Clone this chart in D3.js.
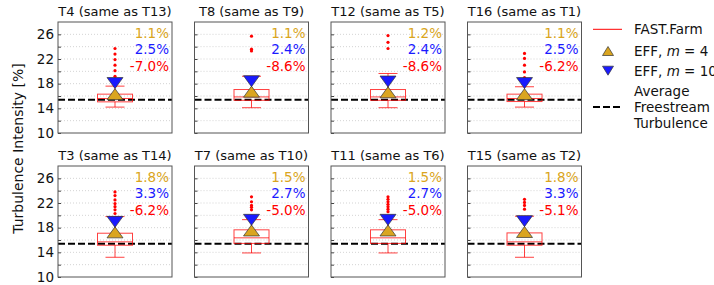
<!DOCTYPE html>
<html>
<head>
<meta charset="utf-8">
<script src="https://cdn.jsdelivr.net/npm/d3@7"></script>
<style>
  html, body { margin: 0; padding: 0; background: #fff; }
  svg { display: block; font-family: "DejaVu Sans", sans-serif; }
</style>
</head>
<body>
<svg id="chart" width="714" height="285"></svg>
<script>
// ---------- data ----------
const titles = ["T4 (same as T13)", "T8 (same as T9)", "T12 (same as T5)", "T16 (same as T1)",
                "T3 (same as T14)", "T7 (same as T10)", "T11 (same as T6)", "T15 (same as T2)"];
const whiskerLow  = [14.2, 14.1, 14.1, 14.2, 13.2, 13.9, 13.9, 13.2];
const q1          = [15.05, 15.3, 15.3, 15.1, 15.15, 15.45, 15.45, 15.15];
const median      = [15.6, 15.85, 15.85, 15.6, 15.7, 16.35, 16.35, 15.7];
const q3          = [16.3, 17.05, 17.05, 16.3, 17.1, 17.65, 17.65, 17.15];
const whiskerHigh = [17.6, 19.2, 19.65, 17.5, 19.8, 19.3, 19.3, 19.85];
const outliers = [
  [23.7, 22.8, 21.9, 21.0, 20.1, 19.2],
  [25.7, 23.6, 23.3],
  [25.8, 24.7, 23.7],
  [22.9, 22.1, 21.0, 19.9, 19.0],
  [23.8, 23.2, 22.5, 21.9, 21.4, 20.9, 20.3],
  [23.0, 22.2, 21.6, 21.3, 20.9],
  [23.0, 22.6, 22.2, 21.8, 21.4, 21.0, 20.6],
  [22.6, 22.1, 21.6, 21.0]
];
const eff4  = [16.3, 16.7, 16.6, 16.3, 17.24, 17.55, 17.55, 17.3];
const eff10 = [18.1, 18.4, 18.35, 18.1, 18.94, 19.27, 19.27, 19.06];
const errEff4  = [1.1, 1.1, 1.2, 1.1, 1.8, 1.5, 1.5, 1.8];
const errEff10 = [2.5, 2.4, 2.4, 2.5, 3.3, 2.7, 2.7, 3.3];
const errFarm  = [-7.0, -8.6, -8.6, -6.2, -6.2, -5.0, -5.0, -5.1];
const freestream = 15.4;
const yDomain = [10, 28];
const yTicks = [10, 12, 14, 16, 18, 20, 22, 24, 26];
const yTickLabels = [10, 14, 18, 22, 26];
const yLabel = "Turbulence Intensity [%]";
const legendLabels = ["FAST.Farm", "EFF, ", "EFF, ", "Average", "Freestream", "Turbulence"];

// ---------- styles ----------
const cGold = "#daa520";
const cBlue = "#1a1aff";
const cRed = "#ff0000";

const svg = d3.select("#chart");
const panelW = 114, panelH = 111;
const lefts = [58, 194.5, 331, 467.5];
const tops = [22, 166];

const x = d3.scaleBand().domain(["box"]).range([0, panelW]).padding(0);

titles.forEach((title, i) => {
  const col = i % 4, row = Math.floor(i / 4);
  const g = svg.append("g").attr("transform", `translate(${lefts[col]},${tops[row]})`);
  const y = d3.scaleLinear().domain(yDomain).range([panelH, 0]);
  const cx = x("box") + x.bandwidth() / 2;

  // grid
  g.selectAll("line.grid").data(yTicks.filter(t => t > yDomain[0]))
    .enter().append("line")
    .attr("x1", 0).attr("x2", panelW)
    .attr("y1", d => y(d)).attr("y2", d => y(d))
    .attr("stroke", "#c8c8c8").attr("stroke-width", 0.8)
    .attr("stroke-dasharray", "1,2");

  // axis
  const axis = d3.axisLeft(y).tickValues(yTicks).tickSize(-3).tickPadding(4)
    .tickFormat(d => (col === 0 && yTickLabels.includes(d)) ? d : "");
  const ag = g.append("g").call(axis);
  ag.select(".domain").remove();
  ag.selectAll(".tick line").attr("stroke", "#444");
  ag.selectAll(".tick text").attr("font-size", 13.5).attr("fill", "#111")
    .attr("font-family", "DejaVu Sans");

  // freestream
  g.append("line").attr("x1", 0).attr("x2", panelW)
    .attr("y1", y(freestream)).attr("y2", y(freestream))
    .attr("stroke", "#000").attr("stroke-width", 2).attr("stroke-dasharray", "7,3");

  // box plot
  const bw = 35, capW = 19;
  const bx = g.append("g").attr("stroke", cRed).attr("stroke-opacity", 0.75)
    .attr("fill", "none").attr("stroke-width", 1);
  bx.append("line").attr("x1", cx).attr("x2", cx).attr("y1", y(whiskerLow[i])).attr("y2", y(q1[i]));
  bx.append("line").attr("x1", cx).attr("x2", cx).attr("y1", y(q3[i])).attr("y2", y(whiskerHigh[i]));
  bx.append("line").attr("x1", cx - capW / 2).attr("x2", cx + capW / 2)
    .attr("y1", y(whiskerLow[i])).attr("y2", y(whiskerLow[i]));
  bx.append("line").attr("x1", cx - capW / 2).attr("x2", cx + capW / 2)
    .attr("y1", y(whiskerHigh[i])).attr("y2", y(whiskerHigh[i]));
  bx.append("rect").attr("x", cx - bw / 2).attr("width", bw)
    .attr("y", y(q3[i])).attr("height", y(q1[i]) - y(q3[i]));
  bx.append("line").attr("x1", cx - bw / 2).attr("x2", cx + bw / 2)
    .attr("y1", y(median[i])).attr("y2", y(median[i]));

  g.selectAll("circle.out").data(outliers[i]).enter().append("circle")
    .attr("cx", cx).attr("cy", d => y(d)).attr("r", 1.6).attr("fill", cRed);

  // markers
  const tw = 16, th = 11;
  const up = (px, py) => `M${px},${py - th / 2}L${px + tw / 2},${py + th / 2}L${px - tw / 2},${py + th / 2}Z`;
  const down = (px, py) => `M${px},${py + th / 2}L${px + tw / 2},${py - th / 2}L${px - tw / 2},${py - th / 2}Z`;
  g.append("path").attr("d", up(cx, y(eff4[i]))).attr("fill", cGold)
    .attr("stroke", "#333").attr("stroke-width", 0.7);
  g.append("path").attr("d", down(cx, y(eff10[i]))).attr("fill", cBlue)
    .attr("stroke", "#333").attr("stroke-width", 0.7);

  // frame
  g.append("rect").attr("width", panelW).attr("height", panelH)
    .attr("fill", "none").attr("stroke", "#555").attr("stroke-width", 1);

  // title
  g.append("text").attr("x", panelW / 2).attr("y", -6).attr("text-anchor", "middle")
    .attr("font-size", 13).attr("fill", "#111").text(title);

  // error labels
  const fmt = v => v.toFixed(1) + "%";
  [[errEff4[i], cGold], [errEff10[i], cBlue], [errFarm[i], cRed]].forEach((e, k) => {
    g.append("text").attr("x", panelW - 3).attr("y", 16 + 16.3 * k)
      .attr("text-anchor", "end").attr("font-size", 13.5).attr("fill", e[1]).text(fmt(e[0]));
  });
});

// y label
svg.append("text").attr("transform", "translate(23,148.5) rotate(-90)")
  .attr("text-anchor", "middle").attr("font-size", 14).attr("fill", "#111").text(yLabel);

// legend
const lg = svg.append("g").attr("font-size", 13.5).attr("fill", "#111");
const lx0 = 593, lx1 = 622, tx = 634;
lg.append("line").attr("x1", lx0).attr("x2", lx1).attr("y1", 29.3).attr("y2", 29.3)
  .attr("stroke", cRed).attr("stroke-width", 1);
lg.append("text").attr("x", tx).attr("y", 34).text(legendLabels[0]);

const lw = 11, lh = 9, lmx = 608;
lg.append("path").attr("d", `M${lmx},${51 - lh / 2}L${lmx + lw / 2},${51 + lh / 2}L${lmx - lw / 2},${51 + lh / 2}Z`)
  .attr("fill", cGold).attr("stroke", "#333").attr("stroke-width", 0.7);
const t1 = lg.append("text").attr("x", tx).attr("y", 56);
t1.append("tspan").text(legendLabels[1]);
t1.append("tspan").attr("font-style", "italic").text("m");
t1.append("tspan").text(" = 4");

lg.append("path").attr("d", `M${lmx},${70.7 + lh / 2}L${lmx + lw / 2},${70.7 - lh / 2}L${lmx - lw / 2},${70.7 - lh / 2}Z`)
  .attr("fill", cBlue).attr("stroke", "#333").attr("stroke-width", 0.7);
const t2 = lg.append("text").attr("x", tx).attr("y", 75.5);
t2.append("tspan").text(legendLabels[2]);
t2.append("tspan").attr("font-style", "italic").text("m");
t2.append("tspan").text(" = 10");

lg.append("line").attr("x1", lx0).attr("x2", lx1).attr("y1", 107).attr("y2", 107)
  .attr("stroke", "#000").attr("stroke-width", 2).attr("stroke-dasharray", "7,3");
lg.append("text").attr("x", tx).attr("y", 95.5).text(legendLabels[3]);
lg.append("text").attr("x", tx).attr("y", 111.5).text(legendLabels[4]);
lg.append("text").attr("x", tx).attr("y", 127.5).text(legendLabels[5]);
</script>
</body>
</html>
